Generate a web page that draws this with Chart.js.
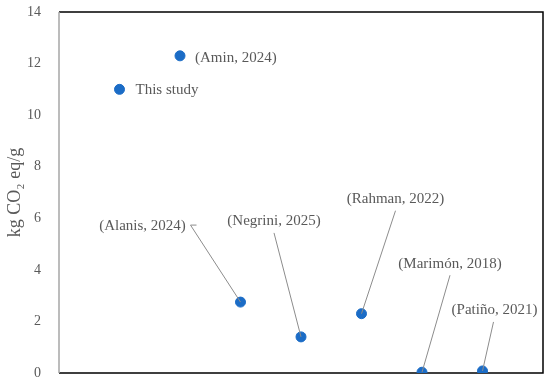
<!DOCTYPE html>
<html>
<head>
<meta charset="utf-8">
<script src="https://cdn.jsdelivr.net/npm/chart.js@4"></script>
<style>
  html, body { margin: 0; padding: 0; background: #fff; }
  #wrap { width: 550px; height: 380px; }
</style>
</head>
<body>
<div id="wrap"><canvas id="chart"></canvas></div>
<script>
const studies = ["This study", "(Amin, 2024)", "(Alanis, 2024)", "(Negrini, 2025)", "(Rahman, 2022)", "(Marimón, 2018)", "(Patiño, 2021)"];
const positions = [1, 2, 3, 4, 5, 6, 7];
const emissions = [11.0, 12.3, 2.75, 1.4, 2.3, 0.03, 0.08];
const yTicks = [0, 2, 4, 6, 8, 10, 12, 14];

// label placement: offset of text anchor from the point (px), and leader line bends
const labelPlace = [
  { dx: 16, dy: 1, align: "left", line: false },
  { dx: 15, dy: 2, align: "left", line: false },
  { dx: -98, dy: -76, align: "center", line: [[-50, -77], [-44, -77]] },
  { dx: -27, dy: -116, align: "center", line: [[-27, -104]] },
  { dx: 34, dy: -115, align: "center", line: [[34, -103]] },
  { dx: 28, dy: -108, align: "center", line: [[28, -97]] },
  { dx: 12, dy: -61, align: "center", line: [[11, -49]] }
];

const textColor = "#595959";
const serif = "'Liberation Serif', 'DejaVu Serif', serif";

const labelPlugin = {
  id: "labels",
  afterDatasetsDraw(chart) {
    const ctx = chart.ctx;
    const xs = chart.scales.x, ys = chart.scales.y;
    ctx.save();
    // leader lines
    ctx.strokeStyle = "#8c8c8c";
    ctx.lineWidth = 1;
    studies.forEach((s, i) => {
      const p = labelPlace[i];
      if (!p.line) return;
      const px = xs.getPixelForValue(positions[i]);
      const py = ys.getPixelForValue(emissions[i]);
      const pts = p.line;
      ctx.beginPath();
      ctx.moveTo(px + pts[pts.length - 1][0], py + pts[pts.length - 1][1]);
      for (let k = pts.length - 2; k >= 0; k--) ctx.lineTo(px + pts[k][0], py + pts[k][1]);
      ctx.lineTo(px, py);
      ctx.stroke();
    });
    // text
    ctx.fillStyle = textColor;
    ctx.font = "15px " + serif;
    ctx.textBaseline = "middle";
    studies.forEach((s, i) => {
      const p = labelPlace[i];
      const px = xs.getPixelForValue(positions[i]);
      const py = ys.getPixelForValue(emissions[i]);
      ctx.textAlign = p.align;
      ctx.fillText(s, px + p.dx, py + p.dy);
    });
    ctx.restore();
  },
  beforeDatasetsDraw(chart) {
    const ctx = chart.ctx;
    const a = chart.chartArea;
    ctx.save();
    ctx.strokeStyle = "#000";
    ctx.lineWidth = 1.5;
    ctx.beginPath();
    ctx.moveTo(a.left, a.top);
    ctx.lineTo(a.right, a.top);
    ctx.lineTo(a.right, a.bottom);
    ctx.lineTo(a.left, a.bottom);
    ctx.stroke();
    ctx.strokeStyle = "#a6a6a6";
    ctx.beginPath();
    ctx.moveTo(a.left, a.top);
    ctx.lineTo(a.left, a.bottom);
    ctx.stroke();
    ctx.restore();
  }
};

new Chart(document.getElementById("chart"), {
  type: "scatter",
  data: {
    datasets: [{
      data: positions.map((x, i) => ({ x: x, y: emissions[i] })),
      backgroundColor: "#1b6cc6",
      borderColor: "#1b6cc6",
      pointRadius: 5,
      pointHoverRadius: 5
    }]
  },
  options: {
    responsive: true,
    maintainAspectRatio: false,
    animation: false,
    layout: { padding: { top: 12, right: 7, bottom: 7, left: 0 } },
    plugins: { legend: { display: false }, tooltip: { enabled: false } },
    scales: {
      x: {
        type: "linear",
        min: 0, max: 8,
        ticks: { display: false },
        grid: { display: false, drawTicks: false },
        border: { display: false },
        afterFit: s => { s.height = 0; s.paddingLeft = 0; s.paddingRight = 0; s.paddingTop = 0; s.paddingBottom = 0; }
      },
      y: {
        min: 0, max: 14,
        afterBuildTicks: s => { s.ticks = yTicks.map(v => ({ value: v })); },
        ticks: { color: textColor, font: { family: serif, size: 14 }, padding: 18 },
        grid: { display: false, drawTicks: false },
        border: { display: false },
        title: {
          display: true,
          text: "kg CO\u2082 eq/g",
          color: textColor,
          font: { family: serif, size: 18 },
          padding: { top: 4, bottom: 0 }
        },
        afterFit: s => { s.width = 59; s.paddingTop = 0; s.paddingBottom = 0; }
      }
    }
  },
  plugins: [labelPlugin]
});
</script>
</body>
</html>
